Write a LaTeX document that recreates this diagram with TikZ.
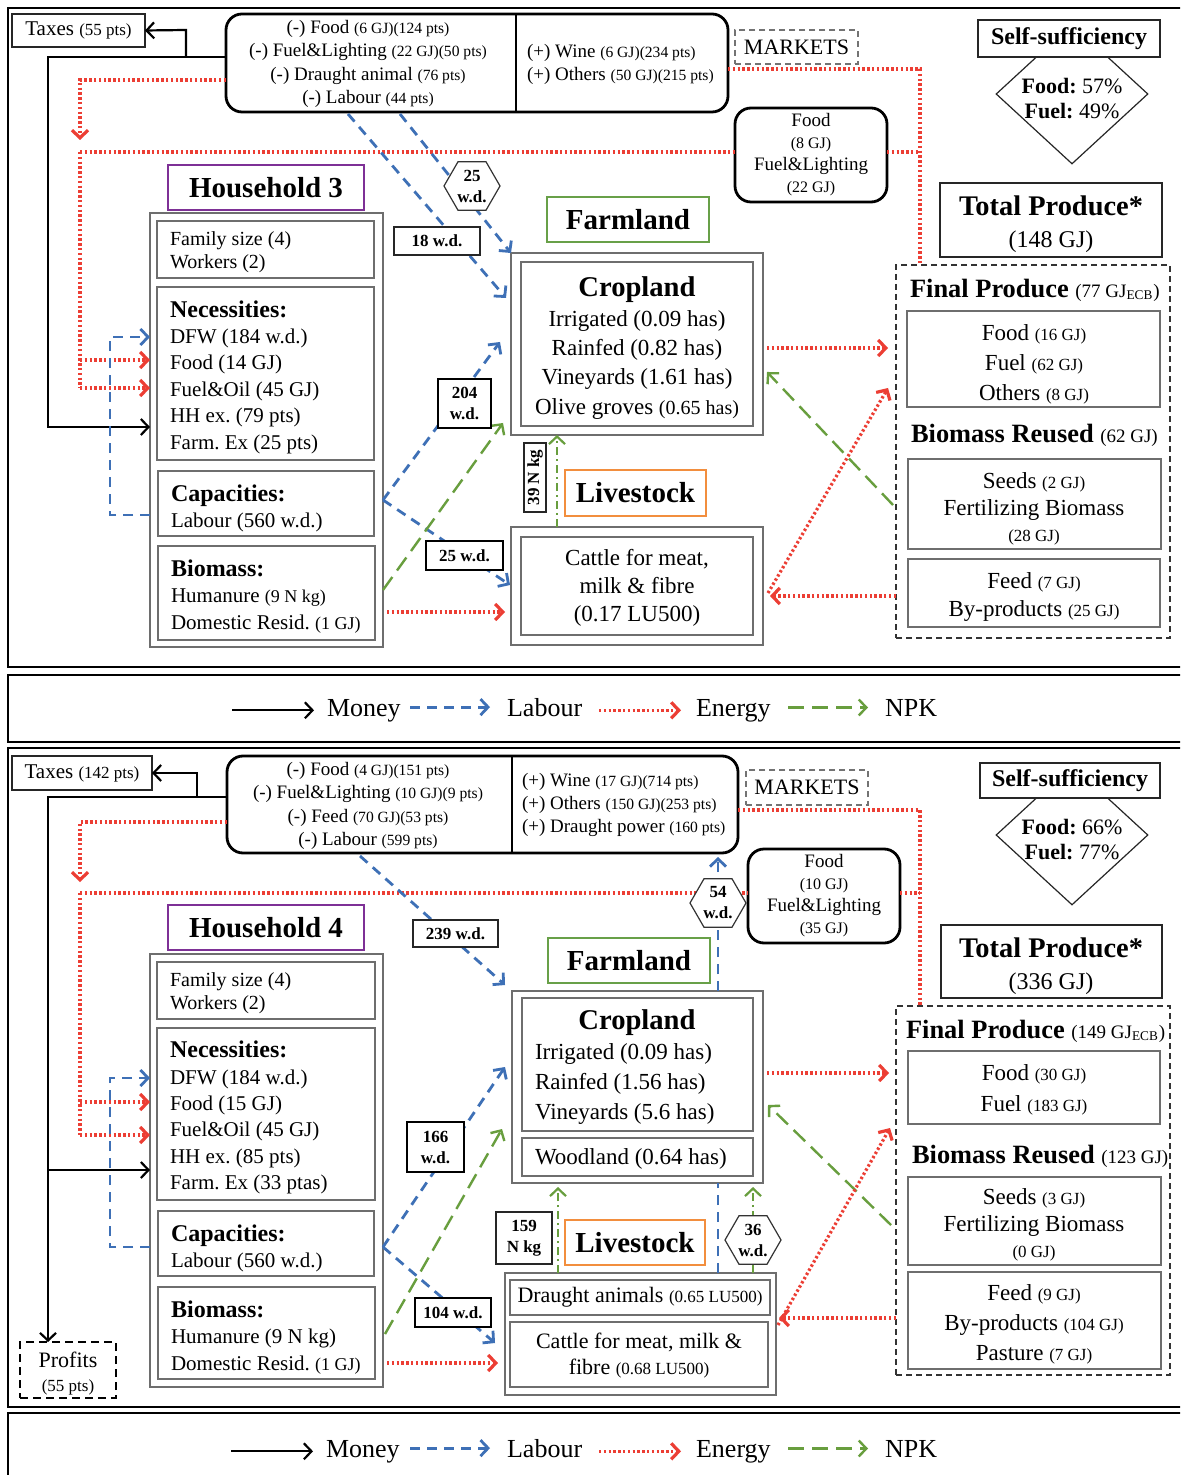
\documentclass[tikz,border=0pt]{standalone}
\usepackage{fontspec}
\setmainfont{Liberation Serif}
\usetikzlibrary{arrows.meta,shapes.geometric}
\frenchspacing

\definecolor{labc}{RGB}{62,112,182}
\definecolor{enec}{RGB}{236,62,52}
\definecolor{npkc}{RGB}{104,158,62}
\definecolor{hhc}{RGB}{126,48,150}
\definecolor{livc}{RGB}{242,142,62}
\definecolor{frmc}{RGB}{104,160,72}
\definecolor{boxc}{RGB}{110,110,110}

% smaller inline text
\newcommand\fz[2]{{\fontsize{#1}{#1}\selectfont #2}}
% box given by its corners: [options]{name}{x1}{y1}{x2}{y2}{text}
\newcommand\bx[7][]{\node[minimum width={(#5-#3)*0.5pt},minimum height={(#6-#4)*0.5pt},inner sep=0pt,outer sep=0pt,align=center,#1] (#2) at ({(#3+#5)/2},{(#4+#6)/2}) {#7};}

\tikzset{
  fs/.style 2 args={font=\fontsize{#1}{#2}\selectfont},
  frame/.style={draw=black,line width=1pt},
  gbox/.style={draw=boxc,line width=0.7pt},
  kbox/.style={draw=black!85,line width=0.6pt,fill=white},
  tbox/.style={draw=black,line width=1.4pt,fill=white},
  rbox/.style={draw=black,line width=1.4pt,rounded corners=8pt,fill=white},
  mkbox/.style={draw=black!55,line width=0.6pt,densely dashed,fill=white},
  fpbox/.style={draw=black!80,line width=0.6pt,densely dashed},
  hextag/.style={regular polygon,regular polygon sides=6,minimum size=28pt,inner sep=0pt,draw=black!80,line width=0.6pt,fill=white,align=center,font=\fontsize{8.5}{10.5}\selectfont\bfseries},
  wdtag/.style={font=\fontsize{8.5}{10.5}\selectfont\bfseries},
  lgtext/.style={anchor=base west,font=\fontsize{13}{14}\selectfont},
  money/.style={draw=black,line width=1.1pt,->},
  lab/.style={draw=labc,line width=1.4pt,dash pattern=on 5pt off 3.5pt,->},
  ene/.style={draw=enec,line width=1.6pt,dash pattern=on 1.2pt off 1.2pt,->},
  npk/.style={draw=npkc,line width=1.2pt,dash pattern=on 8pt off 4pt,->},
  npkdd/.style={draw=npkc,line width=1.1pt,dash pattern=on 4pt off 2pt on 1pt off 2pt,->},
}

\begin{document}
\begin{tikzpicture}[x=0.5pt,y=-0.5pt,>={Straight Barb[length=3.8pt,width=8pt]}]
\clip (0,0) rectangle (1180,1475);
\fill[white] (0,0) rectangle (1180,1475);

%======================= upper panel =======================
\draw[frame] (8,8) rectangle (1195,667);

% market exchanges
\bx[rbox]{mkA}{226}{14}{728}{112}{}
\draw[line width=1.4pt] (mkA.north -| 516,0) -- (mkA.south -| 516,0);
\node[fs={9.5}{11.7},align=center] (mkAl) at (368,64)
  {(-) Food \fz{7.8}{(6 GJ)(124 pts)}\\
   (-) Fuel\&Lighting \fz{7.8}{(22 GJ)(50 pts)}\\
   (-) Draught animal \fz{7.8}{(76 pts)}\\
   (-) Labour \fz{7.8}{(44 pts)}};
\node[fs={9.5}{11.7},align=left,anchor=west] (mkAr) at (520,64.5)
  {(+) Wine \fz{7.8}{(6 GJ)(234 pts)}\\
   (+) Others \fz{7.8}{(50 GJ)(215 pts)}};
\bx[mkbox,fs={11}{12}]{mtA}{735}{30}{858}{64}{MARKETS}
\bx[kbox,fs={10.5}{12}]{taxA}{12}{14}{145}{47}{Taxes \fz{8.5}{(55 pts)}}

% self-sufficiency
\node[diamond,draw=black!85,line width=0.6pt,minimum width=76pt,minimum height=70pt,inner sep=0pt] (ssdA) at (1072,94) {};
\node[fs={11}{12.5},align=center] (sstA) at (1072,99) {\textbf{Food:} 57\%\\\textbf{Fuel:} 49\%};
\bx[kbox,font=\fontsize{12}{13}\selectfont\bfseries]{ssA}{978}{20}{1160}{57}{Self-sufficiency}
\bx[kbox]{tpA}{940}{183}{1162}{257}{}
\node[fs={12}{16},align=center] (tptA) at (1051,224) {\textbf{\fontsize{14.2}{16}\selectfont Total Produce*}\\(148 GJ)};

% self-produced food and fuel
\bx[rbox,fs={9.5}{11}]{fbA}{735}{108}{887}{202}{Food\\\fz{8}{(8 GJ)}\\Fuel\&Lighting\\\fz{8}{(22 GJ)}}

% final produce
\bx[fpbox]{fpA}{896}{265}{1170}{638}{}
\node[anchor=west,fs={13.2}{14}] (fptA) at (903,290) {\textbf{Final Produce} \fz{9.5}{(77 GJ\textsubscript{ECB})}};
\bx[gbox]{fp1A}{907}{311}{1160}{407}{}
\node[fs={11.5}{15},align=center] (fp1tA) at (1034,364) {Food \fz{8.5}{(16 GJ)}\\Fuel \fz{8.5}{(62 GJ)}\\Others \fz{8.5}{(8 GJ)}};
\node[anchor=west,fs={13.2}{14}] (brtA) at (904,435) {\textbf{Biomass Reused} \fz{9.5}{(62 GJ)}};
\bx[gbox]{fp2A}{908}{459}{1161}{549}{}
\node[fs={11.5}{13.3},align=center] (fp2tA) at (1034,509) {Seeds \fz{8.5}{(2 GJ)}\\Fertilizing Biomass\\\fz{8.5}{(28 GJ)}};
\bx[gbox]{fp3A}{908}{559}{1160}{627}{}
\node[fs={11.5}{14},align=center] (fp3tA) at (1034,597) {Feed \fz{8.5}{(7 GJ)}\\By-products \fz{8.5}{(25 GJ)}};

% household
\bx[draw=hhc,line width=1pt,font=\fontsize{14.5}{16}\selectfont\bfseries]{hhtA}{168}{165}{364}{210}{Household 3}
\bx[gbox]{hhA}{150}{213}{383}{647}{}
\bx[gbox]{famA}{157}{221}{374}{278}{}
\node[anchor=west,align=left,fs={10}{11.5}] (famtA) at (163,252) {Family size (4)\\Workers (2)};
\bx[gbox]{necA}{157}{287}{374}{460}{}
\node[anchor=west,align=left,fs={10.5}{13.2}] (nectA) at (163,377)
  {{\bfseries\fontsize{12}{13}\selectfont Necessities:}\\DFW (184 w.d.)\\Food (14 GJ)\\Fuel\&Oil (45 GJ)\\HH ex. (79 pts)\\Farm. Ex (25 pts)};
\bx[gbox]{capA}{158}{471}{374}{536}{}
\node[anchor=west,align=left,fs={10.5}{13}] (captA) at (164,508)
  {{\bfseries\fontsize{12}{13}\selectfont Capacities:}\\Labour (560 w.d.)};
\bx[gbox]{bioA}{158}{546}{375}{640}{}
\node[anchor=west,align=left,fs={10.5}{13.2}] (biotA) at (164,596.5)
  {{\bfseries\fontsize{12}{13}\selectfont Biomass:}\\Humanure \fz{9}{(9 N kg)}\\Domestic Resid. \fz{9}{(1 GJ)}};

% farmland
\bx[draw=frmc,line width=1pt,font=\fontsize{14.5}{16}\selectfont\bfseries]{fmtA}{547}{197}{709}{242}{Farmland}
\bx[gbox]{crA}{511}{253}{763}{435}{}
\bx[gbox]{criA}{521}{262}{753}{426}{}
\node[fs={11.5}{14.7},align=center] (crtA) at (637,348)
  {{\bfseries\fontsize{14.3}{15}\selectfont Cropland}\\Irrigated (0.09 has)\\Rainfed (0.82 has)\\Vineyards (1.61 has)\\Olive groves \fz{10}{(0.65 has)}};
\bx[draw=livc,line width=1pt,font=\fontsize{14.5}{16}\selectfont\bfseries]{lvtA}{565}{470}{706}{516}{Livestock}
\bx[gbox]{lvA}{511}{527}{763}{645}{}
\bx[gbox]{lviA}{521}{537}{753}{635}{}
\node[fs={11.5}{14},align=center] (lvitA) at (637,588) {Cattle for meat,\\milk \& fibre\\(0.17 LU500)};

% flows, upper panel
\coordinate (mA1) at (48,57);
\coordinate (mA2) at (186,57);
\draw[money] (mkA.west |- mA1) -- (mA1) -- (48,427) -- (hhA.west |- 0,427);
\draw[money] (mA2) -- (186,30) -- (taxA.east);
\coordinate (eA1) at (80,80);
\coordinate (eA2) at (80,152);
\coordinate (eA3) at (920,69);
\draw[ene] (mkA.west |- eA1) -- (eA1) -- (80,140);
\draw[ene,-] (eA2) -- (fbA.west |- eA2);
\draw[ene,-] (fbA.east |- eA2) -- (920,152);
\draw[ene,-] (mkA.east |- eA3) -- (eA3) -- (fpA.north -| eA3);
\draw[ene,-] (eA2) -- (80,388);
\draw[ene] (80,360) -- (hhA.west |- 0,360);
\draw[ene] (80,388) -- (hhA.west |- 0,388);
\draw[lab] (hhA.west |- 0,515) -- (110,515) -- (110,337) -- (hhA.west |- 0,337);

\draw[lab] (348,114) -- (506,298);
\draw[lab] (400,114) -- (crA.north west);
\coordinate (jA) at (383,500);
\draw[lab] (jA) -- (500,342);
\draw[lab] (jA) -- (510,585);
\draw[npk] (383,590) -- (503,423);
\draw[ene] (387,612) -- (505,612);
\draw[npkdd] ([xshift=-40pt]lvA.north) -- ([xshift=-40pt]crA.south);
\draw[ene] (767,348) -- (888,348);
\draw[npk] (893,505) -- (767,372);
\draw[ene] (768,593) -- (888,388);
\draw[ene] (fpA.west |- 0,596) -- (770,596);

% labels on the flows
\bx[kbox,wdtag]{l18A}{394}{227}{480}{255}{18 w.d.}
\node[hextag] (h25A) at (472,186) {25\\w.d.};
\bx[tbox,wdtag]{l204A}{438}{379}{491}{428}{204\\w.d.}
\bx[tbox,wdtag]{l25A}{426}{541}{503}{570}{25 w.d.}
\node[draw=black!85,line width=0.6pt,fill=white,rotate=90,minimum width=34.5pt,minimum height=11pt,inner sep=0pt,wdtag] (n39A) at (535,477.5) {39 N kg};

%======================= legend =======================
\draw[frame] (8,675) rectangle (1195,742);
\node[lgtext] (lgMa) at (320,716) {Money};
\node[lgtext] (lgLa) at (500,716) {Labour};
\node[lgtext] (lgEa) at (689,716) {Energy};
\node[lgtext] (lgNa) at (878,716) {NPK};
\draw[money] ([xshift=-44pt]lgMa.west) -- ([xshift=-3pt]lgMa.west);
\draw[lab] ([xshift=-45pt]lgLa.west) -- ([xshift=-5pt]lgLa.west);
\draw[ene] ([xshift=-45pt]lgEa.west) -- ([xshift=-4pt]lgEa.west);
\draw[npk] ([xshift=-45pt]lgNa.west) -- ([xshift=-5pt]lgNa.west);

%======================= lower panel =======================
\draw[frame] (8,748) rectangle (1195,1407);

\bx[rbox]{mkB}{227}{756}{738}{853}{}
\draw[line width=1.4pt] (mkB.north -| 512,0) -- (mkB.south -| 512,0);
\node[fs={9.5}{11.7},align=center] (mkBl) at (368,806)
  {(-) Food \fz{7.8}{(4 GJ)(151 pts)}\\
   (-) Fuel\&Lighting \fz{7.8}{(10 GJ)(9 pts)}\\
   (-) Feed \fz{7.8}{(70 GJ)(53 pts)}\\
   (-) Labour \fz{7.8}{(599 pts)}};
\node[fs={9.5}{11.7},align=left,anchor=west] (mkBr) at (515,805)
  {(+) Wine \fz{7.8}{(17 GJ)(714 pts)}\\
   (+) Others \fz{7.8}{(150 GJ)(253 pts)}\\
   (+) Draught power \fz{7.8}{(160 pts)}};
\bx[mkbox,fs={11}{12}]{mtB}{746}{770}{868}{805}{MARKETS}
\bx[kbox,fs={10.5}{12}]{taxB}{12}{756}{152}{790}{Taxes \fz{8.5}{(142 pts)}}

\node[diamond,draw=black!85,line width=0.6pt,minimum width=76pt,minimum height=70pt,inner sep=0pt] (ssdB) at (1072,835) {};
\node[fs={11}{12.5},align=center] (sstB) at (1072,840) {\textbf{Food:} 66\%\\\textbf{Fuel:} 77\%};
\bx[kbox,font=\fontsize{12}{13}\selectfont\bfseries]{ssB}{980}{763}{1160}{798}{Self-sufficiency}
\bx[kbox]{tpB}{941}{925}{1162}{998}{}
\node[fs={12}{16},align=center] (tptB) at (1051,966) {\textbf{\fontsize{14.2}{16}\selectfont Total Produce*}\\(336 GJ)};

\bx[rbox,fs={9.5}{11}]{fbB}{748}{849}{900}{943}{Food\\\fz{8}{(10 GJ)}\\Fuel\&Lighting\\\fz{8}{(35 GJ)}}

\bx[fpbox]{fpB}{896}{1006}{1170}{1375}{}
\node[anchor=west,fs={13.2}{14}] (fptB) at (899,1031) {\textbf{Final Produce} \fz{9.5}{(149 GJ\textsubscript{ECB})}};
\bx[gbox]{fp1B}{908}{1051}{1160}{1124}{}
\node[fs={11.5}{15.5},align=center] (fp1tB) at (1034,1090) {Food \fz{8.5}{(30 GJ)}\\Fuel \fz{8.5}{(183 GJ)}};
\node[anchor=west,fs={13.2}{14}] (brtB) at (905,1156) {\textbf{Biomass Reused} \fz{9.5}{(123 GJ)}};
\bx[gbox]{fp2B}{908}{1177}{1161}{1265}{}
\node[fs={11.5}{13.3},align=center] (fp2tB) at (1034,1225) {Seeds \fz{8.5}{(3 GJ)}\\Fertilizing Biomass\\\fz{8.5}{(0 GJ)}};
\bx[gbox]{fp3B}{908}{1272}{1161}{1369}{}
\node[fs={11.5}{15},align=center] (fp3tB) at (1034,1324) {Feed \fz{8.5}{(9 GJ)}\\By-products \fz{8.5}{(104 GJ)}\\Pasture \fz{8.5}{(7 GJ)}};

\bx[draw=hhc,line width=1pt,font=\fontsize{14.5}{16}\selectfont\bfseries]{hhtB}{168}{905}{364}{950}{Household 4}
\bx[gbox]{hhB}{150}{954}{383}{1387}{}
\bx[gbox]{famB}{157}{962}{375}{1019}{}
\node[anchor=west,align=left,fs={10}{11.5}] (famtB) at (163,993.5) {Family size (4)\\Workers (2)};
\bx[gbox]{necB}{157}{1028}{375}{1200}{}
\node[anchor=west,align=left,fs={10.5}{13.2}] (nectB) at (163,1117.5)
  {{\bfseries\fontsize{12}{13}\selectfont Necessities:}\\DFW (184 w.d.)\\Food (15 GJ)\\Fuel\&Oil (45 GJ)\\HH ex. (85 pts)\\Farm. Ex (33 ptas)};
\bx[gbox]{capB}{158}{1211}{374}{1276}{}
\node[anchor=west,align=left,fs={10.5}{13}] (captB) at (164,1248)
  {{\bfseries\fontsize{12}{13}\selectfont Capacities:}\\Labour (560 w.d.)};
\bx[gbox]{bioB}{158}{1287}{375}{1379}{}
\node[anchor=west,align=left,fs={10.5}{13.2}] (biotB) at (164,1337.5)
  {{\bfseries\fontsize{12}{13}\selectfont Biomass:}\\Humanure (9 N kg)\\Domestic Resid. \fz{9}{(1 GJ)}};
\bx[draw=black,line width=1.3pt,dash pattern=on 4pt off 2.5pt,fill=white]{prB}{20}{1342}{116}{1398}{}
\node[fs={11}{12},align=center] (prtB) at (68,1374) {Profits\\\fz{8.5}{(55 pts)}};

\bx[draw=frmc,line width=1pt,font=\fontsize{14.5}{16}\selectfont\bfseries]{fmtB}{548}{938}{710}{983}{Farmland}
\bx[gbox]{crB}{512}{991}{763}{1183}{}
\bx[gbox]{criB}{522}{998}{753}{1131}{}
\node[font=\fontsize{14.3}{15}\selectfont\bfseries] (crtB) at (637,1023) {Cropland};
\node[anchor=west,align=left,fs={11.5}{15}] (crlB) at (528,1084) {Irrigated (0.09 has)\\Rainfed (1.56 has)\\Vineyards (5.6 has)};
\bx[gbox]{wdB}{522}{1138}{753}{1176}{}
\node[anchor=west,fs={11.5}{13}] (wdtB) at (528,1159) {Woodland (0.64 has)};
\bx[draw=livc,line width=1pt,font=\fontsize{14.5}{16}\selectfont\bfseries]{lvtB}{565}{1220}{705}{1265}{Livestock}
\bx[gbox]{lvB}{505}{1273}{776}{1395}{}
\bx[gbox,fs={11}{13}]{daB}{510}{1280}{770}{1315}{Draught animals \fz{8.5}{(0.65 LU500)}}
\bx[gbox]{ctB}{510}{1322}{768}{1387}{}
\node[fs={11}{13},align=center] (cttB) at (639,1356) {Cattle for meat, milk \&\\fibre \fz{8.5}{(0.68 LU500)}};

% flows, lower panel
\coordinate (mB1) at (48,797);
\coordinate (mB2) at (197,797);
\draw[money] (mkB.west |- mB1) -- (mB1) -- (prB.north -| mB1);
\draw[money] (48,1170) -- (hhB.west |- 0,1170);
\draw[money] (mB2) -- (197,773) -- (taxB.east |- 0,773);
\coordinate (eB1) at (80,822);
\coordinate (eB2) at (80,893);
\coordinate (eB3) at (920,810);
\draw[ene] (mkB.west |- eB1) -- (eB1) -- (80,882);
\draw[ene,-] (eB2) -- (fbB.west |- eB2);
\draw[ene,-] (fbB.east |- eB2) -- (920,893);
\draw[ene,-] (mkB.east |- eB3) -- (eB3) -- (fpB.north -| eB3);
\draw[ene,-] (eB2) -- (80,1135);
\draw[ene] (80,1102) -- (hhB.west |- 0,1102);
\draw[ene] (80,1135) -- (hhB.west |- 0,1135);
\draw[lab] (hhB.west |- 0,1247) -- (110,1247) -- (110,1078) -- (hhB.west |- 0,1078);

\coordinate (dB) at (718,0);
\draw[lab] (360,856) -- (505,985);
\draw[lab] (crB.north -| dB) -- ([yshift=-2pt]mkB.south -| dB);
\draw[lab,-] (lvB.north -| dB) -- (crB.south -| dB);
\coordinate (jB) at (383,1247);
\draw[lab] (jB) -- (505,1067);
\draw[lab] (jB) -- (495,1343);
\draw[npk] (385,1334) -- (502,1129);
\draw[ene] (387,1363) -- (498,1363);
\coordinate (gB1) at (558,0);
\coordinate (gB2) at (753,0);
\draw[npkdd] (lvB.north -| gB1) -- ([yshift=-2pt]crB.south -| gB1);
\draw[npkdd] (lvB.north -| gB2) -- ([yshift=-2pt]crB.south -| gB2);
\draw[ene] (767,1073) -- (889,1073);
\draw[npk] (891,1225) -- (768,1105);
\draw[ene] (778,1325) -- (890,1128);
\draw[ene] (fpB.west |- 0,1318) -- (779,1318);

\bx[kbox,wdtag]{l239B}{413}{920}{498}{947}{239 w.d.}
\node[hextag] (h54B) at (718,903) {54\\w.d.};
\bx[tbox,wdtag]{l166B}{407}{1122}{464}{1172}{166\\w.d.}
\bx[tbox,wdtag]{l104B}{415}{1298}{491}{1327}{104 w.d.}
\bx[kbox,wdtag]{n159B}{496}{1212}{552}{1264}{159\\N kg}
\node[hextag] (h36B) at (753,1240) {36\\w.d.};

%======================= legend =======================
\draw[frame] (8,1413) rectangle (1195,1490);
\node[lgtext] (lgMb) at (319,1457) {Money};
\node[lgtext] (lgLb) at (500,1457) {Labour};
\node[lgtext] (lgEb) at (689,1457) {Energy};
\node[lgtext] (lgNb) at (878,1457) {NPK};
\draw[money] ([xshift=-44pt]lgMb.west) -- ([xshift=-3pt]lgMb.west);
\draw[lab] ([xshift=-45pt]lgLb.west) -- ([xshift=-5pt]lgLb.west);
\draw[ene] ([xshift=-45pt]lgEb.west) -- ([xshift=-4pt]lgEb.west);
\draw[npk] ([xshift=-45pt]lgNb.west) -- ([xshift=-5pt]lgNb.west);
\end{tikzpicture}
\end{document}
